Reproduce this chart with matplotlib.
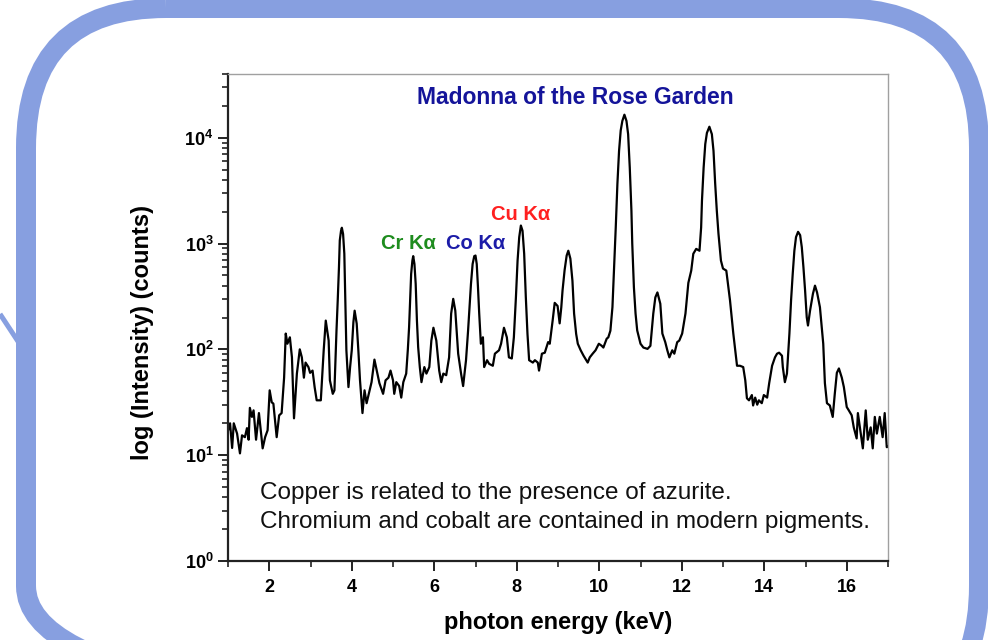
import matplotlib
matplotlib.use("Agg")
import matplotlib.pyplot as plt
from matplotlib.patches import FancyBboxPatch
from matplotlib.ticker import FixedLocator, NullFormatter, LogLocator

plt.rcParams['font.family'] = ['Liberation Sans', 'DejaVu Sans']
plt.rcParams['mathtext.fontset'] = 'custom'
plt.rcParams['mathtext.rm'] = 'Liberation Sans:bold'
plt.rcParams['mathtext.bf'] = 'Liberation Sans:bold'
plt.rcParams['mathtext.it'] = 'Liberation Sans:bold'

# ---- data ----
energy_keV = [
    1.00, 1.05, 1.10, 1.14, 1.22, 1.29, 1.34, 1.41, 1.46, 1.50,
    1.53, 1.58, 1.62, 1.68, 1.75, 1.84, 1.90, 1.96, 2.01, 2.06,
    2.10, 2.18, 2.24, 2.30, 2.36, 2.40, 2.44, 2.50, 2.55, 2.60,
    2.67, 2.74, 2.79, 2.84, 2.88, 2.95, 2.99, 3.05, 3.10, 3.15,
    3.25, 3.32, 3.37, 3.44, 3.47, 3.54, 3.58, 3.63, 3.66, 3.69,
    3.71, 3.74, 3.76, 3.79, 3.82, 3.84, 3.87, 3.92, 3.96, 4.00,
    4.04, 4.07, 4.12, 4.16, 4.20, 4.26, 4.31, 4.36, 4.42, 4.48,
    4.55, 4.62, 4.67, 4.76, 4.82, 4.89, 4.94, 5.00, 5.03, 5.08,
    5.15, 5.20, 5.25, 5.32, 5.36, 5.39, 5.42, 5.44, 5.47, 5.49,
    5.52, 5.55, 5.58, 5.61, 5.65, 5.69, 5.76, 5.81, 5.88, 5.93,
    5.98, 6.05, 6.12, 6.17, 6.22, 6.29, 6.36, 6.41, 6.46, 6.51,
    6.58, 6.65, 6.70, 6.77, 6.82, 6.85, 6.89, 6.93, 6.97, 7.00,
    7.03, 7.06, 7.09, 7.13, 7.18, 7.21, 7.28, 7.33, 7.42, 7.47,
    7.57, 7.62, 7.69, 7.76, 7.81, 7.88, 7.93, 7.98, 8.02, 8.06,
    8.10, 8.14, 8.18, 8.22, 8.26, 8.30, 8.39, 8.44, 8.51, 8.54,
    8.61, 8.68, 8.76, 8.80, 8.87, 8.92, 8.99, 9.04, 9.08, 9.11,
    9.16, 9.21, 9.25, 9.30, 9.35, 9.39, 9.44, 9.48, 9.55, 9.62,
    9.72, 9.77, 9.84, 9.91, 9.99, 10.06, 10.10, 10.18, 10.22, 10.27,
    10.32, 10.36, 10.40, 10.44, 10.48, 10.52, 10.56, 10.61, 10.66, 10.70,
    10.74, 10.78, 10.80, 10.84, 10.88, 10.92, 11.00, 11.07, 11.17, 11.24,
    11.31, 11.36, 11.41, 11.48, 11.53, 11.60, 11.65, 11.70, 11.77, 11.82,
    11.89, 11.94, 12.01, 12.09, 12.16, 12.23, 12.28, 12.35, 12.43, 12.47,
    12.49, 12.53, 12.57, 12.61, 12.67, 12.73, 12.77, 12.81, 12.85, 12.89,
    12.95, 13.00, 13.08, 13.17, 13.25, 13.34, 13.41, 13.49, 13.54, 13.58,
    13.63, 13.70, 13.73, 13.78, 13.83, 13.87, 13.94, 13.99, 14.07, 14.12,
    14.19, 14.26, 14.31, 14.36, 14.43, 14.45, 14.50, 14.55, 14.58, 14.61,
    14.65, 14.69, 14.73, 14.77, 14.82, 14.87, 14.91, 14.95, 14.99, 15.03,
    15.06, 15.11, 15.18, 15.23, 15.28, 15.35, 15.43, 15.47, 15.52, 15.59,
    15.66, 15.71, 15.76, 15.81, 15.88, 15.93, 16.00, 16.05, 16.12, 16.17,
    16.24, 16.27, 16.34, 16.39, 16.46, 16.51, 16.58, 16.63, 16.68, 16.73,
    16.80, 16.87, 16.92, 16.97, 17.00,
]
counts = [
    17, 20, 11.7, 20, 16, 10.4, 15.4, 14.8, 18, 14,
    28, 23, 26.5, 14, 25, 11.6, 14.8, 17.2, 41, 31.6,
    30.7, 14.8, 23.8, 25, 54, 141, 113, 130, 84, 22.3,
    59, 100, 84, 54, 75, 68, 60, 63, 44, 33,
    33, 98, 187, 121, 51, 38, 41, 150, 290, 596,
    1070, 1320, 1410, 1230, 800, 335, 98, 44, 68, 98,
    181, 232, 175, 98, 51, 25, 41, 31, 39, 49,
    80, 59, 48, 38, 51, 54, 63, 51, 38, 49,
    45, 35, 49, 59, 100, 162, 335, 516, 690, 760,
    640, 415, 187, 105, 68, 49, 68, 59, 68, 121,
    160, 121, 63, 49, 59, 57, 84, 218, 300, 232,
    91, 59, 45, 79, 150, 232, 415, 640, 760, 770,
    640, 386, 218, 113, 130, 68, 79, 73, 70, 91,
    98, 113, 160, 130, 84, 82, 130, 311, 690, 1150,
    1480, 1320, 800, 311, 140, 79, 75, 79, 75, 63,
    91, 93, 117, 113, 187, 275, 257, 176, 250, 360,
    560, 770, 855, 720, 445, 218, 140, 113, 98, 87,
    75, 84, 91, 98, 113, 108, 104, 126, 130, 150,
    251, 596, 1420, 3660, 7500, 11700, 14400, 16500, 14400, 10800,
    5200, 2040, 1000, 386, 218, 151, 113, 104, 101, 108,
    218, 310, 345, 270, 141, 117, 98, 84, 98, 91,
    117, 121, 141, 218, 425, 555, 800, 890, 855, 1420,
    2540, 5200, 8700, 11100, 12700, 10800, 7500, 3700, 2040, 1240,
    690, 580, 555, 290, 141, 70, 70, 68, 51, 34.5,
    33, 37, 29.5, 35, 30, 33, 31, 37, 35, 48,
    70, 84, 91, 93, 87, 68, 49, 59, 90, 141,
    290, 516, 855, 1150, 1290, 1200, 925, 596, 360, 201,
    168, 232, 335, 400, 345, 250, 113, 48, 31, 29.5,
    23, 38, 60, 66, 54, 44, 28.5, 26.5, 23.8, 18.3,
    14.4, 25, 16, 11.6, 26.5, 14, 18.3, 11.6, 23, 16,
    23, 14.8, 25, 11.9, 12,
]

x_major = [2, 4, 6, 8, 10, 12, 14, 16]
x_minor = [1, 3, 5, 7, 9, 11, 13, 15, 17]
y_major = [1, 10, 100, 1000, 10000]
y_labels = [r'$\mathbf{10^{0}}$', r'$\mathbf{10^{1}}$', r'$\mathbf{10^{2}}$',
            r'$\mathbf{10^{3}}$', r'$\mathbf{10^{4}}$']

title_text = "Madonna of the Rose Garden"
peak_labels = ["Cr Kα", "Co Kα", "Cu Kα"]
peak_label_x = [5.38, 7.0, 8.1]
peak_label_y = [1000, 1000, 1870]
peak_colors = ["#1e8c1e", "#1c1ca8", "#ff2020"]
note_lines = ["Copper is related to the presence of azurite.",
              "Chromium and cobalt are contained in modern pigments."]

# ---- figure ----
W, H = 988, 640
fig = plt.figure(figsize=(W / 100, H / 100), dpi=100)
fig.patch.set_facecolor('white')

bg = fig.add_axes([0, 0, 1, 1], zorder=0)
bg.set_xlim(0, W)
bg.set_ylim(H, 0)
bg.axis('off')
frame_col = '#879fe0'
box = FancyBboxPatch((26, 8), 953, 718, boxstyle="round,pad=0,rounding_size=140",
                     fill=False, ec=frame_col, lw=20 * 0.72)
bg.add_patch(box)
bg.plot([0, 23], [314, 349], color=frame_col, lw=5 * 0.72, solid_capstyle='butt')

ax = fig.add_axes([228 / W, 1 - 561 / H, (888 - 228) / W, (561 - 74) / H], zorder=1)
ax.patch.set_alpha(0)
ax.plot(energy_keV, counts, color='black', lw=1.6)
ax.set_yscale('log')
ax.set_xlim(1, 17)
ax.set_ylim(1, 4e4)

ax.xaxis.set_major_locator(FixedLocator(x_major))
ax.xaxis.set_minor_locator(FixedLocator(x_minor))
ax.set_xticklabels([str(v) for v in x_major], fontsize=13, fontweight='bold')
ax.yaxis.set_major_locator(FixedLocator(y_major))
ax.set_yticklabels(y_labels, fontsize=13)
ax.yaxis.set_minor_locator(LogLocator(base=10, subs=range(2, 10), numticks=20))
ax.yaxis.set_minor_formatter(NullFormatter())

ax.tick_params(axis='both', which='major', direction='out', length=7, width=1.4, color='#222222')
ax.tick_params(axis='both', which='minor', direction='out', length=4, width=1.2, color='#222222')
ax.tick_params(axis='x', which='major', pad=6)
ax.tick_params(right=False, top=False)

for s in ['left', 'bottom']:
    ax.spines[s].set_linewidth(1.6)
    ax.spines[s].set_color('#222222')
for s in ['top', 'right']:
    ax.spines[s].set_linewidth(1.0)
    ax.spines[s].set_color('#a0a0a0')

ax.set_xlabel("photon energy (keV)", fontsize=17, fontweight='bold')
ax.set_ylabel("log (Intensity) (counts)", fontsize=17, fontweight='bold')
ax.xaxis.set_label_coords(0.5, -0.127)
ax.xaxis.label.set_va('center')
ax.yaxis.set_label_coords(-0.129, 0.47)
ax.yaxis.label.set_va('center')

ax.text(9.43, 24000, title_text, color='#14149a', fontsize=16.5, fontweight='bold',
        ha='center', va='center')
for lab, lx, ly, c in zip(peak_labels, peak_label_x, peak_label_y, peak_colors):
    ax.text(lx, ly, lab, color=c, fontsize=14.5, fontweight='bold', ha='center', va='center')

ax.text(1.77, 4.4, note_lines[0], fontsize=17.5, ha='left', va='center', color='#111111')
ax.text(1.77, 2.33, note_lines[1], fontsize=17.5, ha='left', va='center', color='#111111')

fig.savefig("out.png", dpi=100, facecolor='white')
